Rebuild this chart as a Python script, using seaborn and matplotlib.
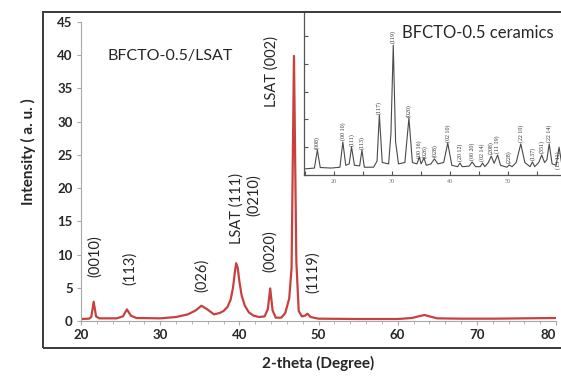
import matplotlib
matplotlib.use("Agg")
import matplotlib.pyplot as plt
from matplotlib.patches import Rectangle
from matplotlib.ticker import MultipleLocator, FixedLocator
import pandas as pd
import seaborn as sns

# main film pattern
film_2theta = [20.0, 21.0, 21.3, 21.6, 21.9, 22.3, 24.5, 25.3, 25.8, 26.3, 27.0,
               30.0, 32.0, 33.5, 34.5, 35.2, 35.9, 36.8, 37.5, 38.0, 38.5, 38.9,
               39.2, 39.45, 39.6, 39.8, 40.0, 40.3, 40.7, 41.2, 41.8, 42.5, 43.2,
               43.6, 43.9, 44.2, 44.6, 45.3, 45.8, 46.3, 46.6, 46.9, 47.2, 47.5,
               47.9, 48.3, 48.6, 49.0, 50.0, 55.0, 60.0, 61.8, 62.8, 63.4, 64.0,
               65.0, 68.0, 72.0, 76.0, 80.0]
film_int = [0.3, 0.35, 0.6, 2.9, 0.7, 0.4, 0.4, 0.7, 1.75, 0.8, 0.45,
            0.4, 0.6, 1.0, 1.6, 2.3, 1.8, 1.0, 1.2, 1.5, 2.1, 3.2,
            5.0, 7.5, 8.7, 8.0, 6.0, 3.8, 2.3, 1.3, 0.8, 0.6, 0.7,
            1.8, 4.9, 1.6, 0.5, 0.5, 1.2, 3.4, 8.0, 39.9, 9.0, 1.5,
            0.7, 0.8, 1.1, 0.6, 0.35, 0.3, 0.3, 0.45, 0.75, 0.9, 0.7,
            0.4, 0.35, 0.35, 0.4, 0.45]
film_ticks = [20, 30, 40, 50, 60, 70, 80]

film_labels = ["(0010)", "(113)", "(026)", "LSAT (111)", "(0210)", "(0020)",
               "LSAT (002)", "(1119)"]
film_label_x = [21.8, 26.2, 35.3, 39.7, 41.8, 43.9, 44.1, 49.3]
film_label_y = [9.8, 7.9, 6.9, 16.9, 19.0, 10.5, 37.6, 7.4]

# ceramic pattern (inset)
cer_2theta = [15.0, 16.6, 17.1, 17.6, 19.5, 21.0, 21.5, 22.0, 22.6, 23.0, 23.5,
              24.4, 24.8, 25.2, 26.8, 27.4, 27.8, 28.3, 29.4, 29.8, 30.2, 30.6,
              31.1, 32.2, 32.9, 33.5, 34.3, 34.7, 35.0, 35.5, 35.9, 36.7, 37.3,
              37.9, 38.9, 39.6, 40.3, 41.3, 41.7, 42.1, 43.3, 43.8, 44.4, 45.2,
              45.6, 46.0, 46.6, 47.1, 47.6, 48.2, 48.7, 49.8, 50.2, 50.7, 51.4,
              52.2, 52.9, 53.8, 54.2, 54.6, 55.3, 55.8, 56.3, 56.7, 57.1, 57.6,
              58.3, 58.8, 59.3, 62.0]
cer_int = [0.22, 0.25, 0.90, 0.27, 0.25, 0.28, 1.19, 0.35, 0.40, 1.01, 0.35,
           0.33, 0.90, 0.28, 0.28, 0.50, 2.16, 0.45, 0.40, 1.50, 4.68, 1.20,
           0.40, 0.45, 2.05, 0.45, 0.40, 0.65, 0.40, 0.61, 0.35, 0.40, 0.58,
           0.40, 0.45, 1.15, 0.35, 0.30, 0.43, 0.30, 0.32, 0.47, 0.30, 0.30,
           0.43, 0.30, 0.45, 0.68, 0.42, 0.72, 0.35, 0.28, 0.36, 0.30, 0.45,
           1.12, 0.45, 0.30, 0.47, 0.30, 0.45, 0.72, 0.45, 0.55, 1.12, 0.40,
           0.35, 1.00, 0.35, 0.30]

cer_labels = ["(008)", "(00 10)", "(111)", "(113)", "(117)", "(119)", "(020)",
              "(00 16)", "(026)", "(028)", "(02 10)", "(20 12)", "(00 20)",
              "(02 14)", "(208)", "(11 19)", "(228)", "(22 10)", "(137)",
              "(351)", "(22 14)", "(13 11)"]
cer_label_x = [17.1, 21.5, 23.0, 24.8, 27.8, 30.2, 32.9, 34.6, 35.7, 37.3,
               39.6, 41.7, 43.8, 45.6, 47.1, 48.2, 50.2, 52.2, 54.2, 55.8,
               57.1, 58.6]
cer_label_y = [0.95, 1.25, 1.05, 0.95, 2.2, 4.75, 2.1, 0.6, 0.6, 0.65,
               1.2, 0.5, 0.55, 0.5, 0.75, 0.8, 0.45, 1.2, 0.55, 0.8,
               1.2, 0.2]
cer_ticks = [20, 30, 40, 50]

film = pd.DataFrame({"two_theta": film_2theta, "intensity": film_int})
cer = pd.DataFrame({"two_theta": cer_2theta, "intensity": cer_int})

sns.set_style("white")
plt.rcParams["font.family"] = ["Lato", "DejaVu Sans"]

fig = plt.figure(figsize=(5.61, 3.76), dpi=100)

# outer frame
fig.patches.append(Rectangle((43 / 561, 1 - 348 / 376), 0.98, (348 - 12) / 376,
                             transform=fig.transFigure, fill=False,
                             edgecolor="#3a3a3a", lw=1.4, zorder=0))

ax = fig.add_axes([81 / 561, 1 - 321 / 376, 475 / 561, 299 / 376])
ax.patch.set_alpha(0)
sns.lineplot(data=film, x="two_theta", y="intensity", ax=ax,
             color="#c8413f", lw=1.6)
ax.yaxis.set_major_locator(MultipleLocator(5))
ax.set_xticks(film_ticks)
ax.set_xticklabels([str(v) for v in film_ticks])
ax.xaxis.set_minor_locator(MultipleLocator(2))
ax.set_xlim(20, 80)
ax.set_ylim(0, 45)
for s in ["top", "right"]:
    ax.spines[s].set_visible(False)
for s in ["left", "bottom"]:
    ax.spines[s].set_color("#a8a8a8")
    ax.spines[s].set_linewidth(0.8)
ax.tick_params(axis="both", which="both", direction="out", color="#a8a8a8",
               labelsize=9.5, pad=3)
ax.tick_params(axis="x", which="major", length=3, bottom=True)
ax.tick_params(axis="x", which="minor", length=2.5, bottom=True)
ax.tick_params(axis="y", which="major", length=3, left=True)
for t in ax.get_xticklabels() + ax.get_yticklabels():
    t.set_fontweight("bold")
# last x label sits on the figure edge
ax.get_xticklabels()[-1].set_horizontalalignment("right")
ax.set_xlabel("")
ax.set_ylabel("")
fig.text(28 / 561, 1 - 152 / 376, "Intensity ( a. u. )", rotation=90,
         ha="center", va="center", fontsize=11, fontweight="bold")
fig.text(318 / 561, 1 - 363 / 376, "2-theta (Degree)", ha="center",
         va="center", fontsize=11, fontweight="bold")

for lab, x, y in zip(film_labels, film_label_x, film_label_y):
    ax.text(x, y, lab, rotation=90, ha="center", va="center", fontsize=10.5)
ax.text(0.055, 0.885, "BFCTO-0.5/LSAT", transform=ax.transAxes,
        ha="left", va="center", fontsize=11.5)

# inset: ceramic powder pattern
ins = fig.add_axes([304 / 561, 1 - 175 / 376, 273.6 / 561, 163 / 376])
ins.set_facecolor("white")
sns.lineplot(data=cer, x="two_theta", y="intensity", ax=ins,
             color="#4a4a4a", lw=0.8)
ins.xaxis.set_major_locator(FixedLocator(cer_ticks))
ins.xaxis.set_minor_locator(MultipleLocator(5))
ins.yaxis.set_major_locator(MultipleLocator(1))
ins.set_xlim(14.8, 62)
ins.set_ylim(0, 5.87)
ins.set_yticklabels([])
for s in ["top", "right"]:
    ins.spines[s].set_visible(False)
for s in ["left", "bottom"]:
    ins.spines[s].set_color("#555555")
    ins.spines[s].set_linewidth(0.9)
ins.tick_params(axis="both", which="both", direction="in", color="#555555",
                length=3, width=0.8)
ins.tick_params(axis="x", which="both", bottom=True, labelsize=4.5,
                labelcolor="#777777", pad=3)
ins.tick_params(axis="y", which="major", left=True)
for t in ins.get_xticklabels():
    t.set_family("Liberation Serif")
ins.set_xlabel("")
ins.set_ylabel("")
for lab, x, y in zip(cer_labels, cer_label_x, cer_label_y):
    ins.text(x, y, lab, rotation=90, ha="center", va="bottom", fontsize=4.3,
             family="Liberation Serif", color="#333333")
ins.text(402 / 561, 1 - 33 / 376, "BFCTO-0.5 ceramics", transform=fig.transFigure,
         ha="left", va="center", fontsize=12)

fig.savefig("out.png", dpi=100)
